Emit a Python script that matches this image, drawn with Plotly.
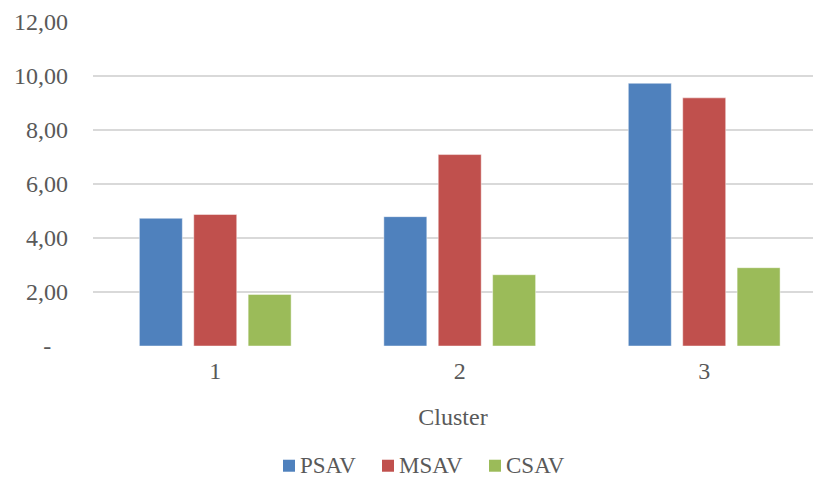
import plotly.graph_objects as go

# Cluster averages per indicator
clusters = ["1", "2", "3"]
psav = [4.73, 4.79, 9.73]
msav = [4.87, 7.09, 9.19]
csav = [1.91, 2.64, 2.90]

y_ticks = [0, 2, 4, 6, 8, 10, 12]
y_tick_labels = ["-\u00a0\u00a0\u2009", "2,00", "4,00", "6,00", "8,00", "10,00", "12,00"]

series = [
    ("PSAV", psav, "#4F81BD"),
    ("MSAV", msav, "#C0504D"),
    ("CSAV", csav, "#9BBB59"),
]

FONT = "Liberation Serif, 'Times New Roman', serif"
TEXT = "#595959"
SIZE = 24

# plot area in pixels
W, H = 813, 477
L, T = 93, 21.5
PW, PH = 720, 324.2


def px_x(px):
    return (px - L) / PW


def px_y(py):
    return (T + PH - py) / PH


fig = go.Figure()
for name, vals, color in series:
    fig.add_trace(go.Bar(
        x=clusters, y=vals, name=name, showlegend=False,
        marker=dict(color=color, line=dict(color="rgba(255,255,255,0.45)", width=1)),
    ))

# legend row under the axis title: square swatch + series name
legend_left = [283, 382, 489]
for (name, _, color), x0 in zip(series, legend_left):
    fig.add_shape(type="rect", xref="paper", yref="paper",
                  x0=px_x(x0), x1=px_x(x0 + 12), y0=px_y(471.5), y1=px_y(459.5),
                  fillcolor=color, line=dict(width=0))
    fig.add_annotation(text=name, xref="paper", yref="paper",
                       x=px_x(x0 + 16), y=px_y(465), xanchor="left", yanchor="middle",
                       showarrow=False, borderpad=0,
                       font=dict(family=FONT, size=23, color=TEXT))

fig.update_layout(
    width=W, height=H,
    margin=dict(l=L, r=W - L - PW, t=T, b=H - T - PH, pad=0, autoexpand=False),
    paper_bgcolor="white", plot_bgcolor="white",
    barmode="group", bargap=0.3325, bargroupgap=0.21,
    font=dict(family=FONT, size=SIZE, color=TEXT),
    showlegend=False,
    xaxis=dict(
        type="category", categoryorder="array", categoryarray=clusters,
        range=[-0.5, 2.445], showgrid=False, zeroline=False, showline=False,
        ticks="", ticklabelstandoff=8, automargin=False,
        tickfont=dict(family=FONT, size=SIZE, color=TEXT),
        title=dict(text="Cluster", standoff=25, font=dict(family=FONT, size=SIZE, color=TEXT)),
    ),
    yaxis=dict(
        range=[0, 12], tickvals=y_ticks, ticktext=y_tick_labels,
        showgrid=True, gridcolor="#d9d9d9", gridwidth=1.5, automargin=False,
        zeroline=False, showline=False, ticks="", ticklabelstandoff=24,
        tickfont=dict(family=FONT, size=SIZE, color=TEXT),
    ),
)

fig.write_html("out.html")
